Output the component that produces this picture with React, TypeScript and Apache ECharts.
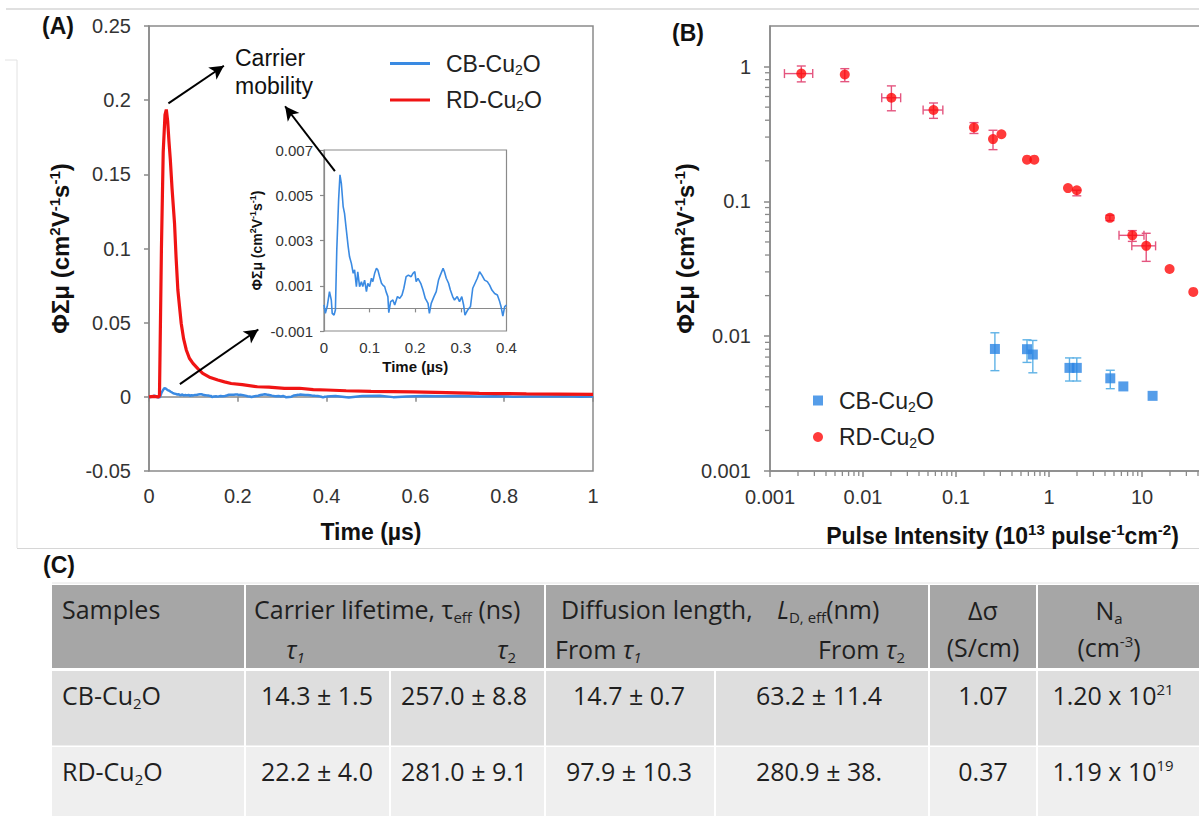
import React, { useEffect, useRef } from "react";
import * as echarts from "echarts";

const FONT = "'Liberation Sans', Arial, Helvetica, sans-serif";
const TFONT = "'Open Sans', 'Liberation Sans', sans-serif";
const RED = "#f01414";
const BLUE = "#3a8ae2";
const AXIS = "#8a8a8a";
const LABEL = "#333333";

// ---------- Panel A: photoconductivity transients (time µs, ΦΣμ) ----------
const rdTransient: [number, number][] = [
  [0, 0], [0.01, 0.0003], [0.022, 0], [0.0236, 0.001], [0.028, 0.1], [0.032, 0.165],
  [0.036, 0.19], [0.039, 0.1937], [0.042, 0.186], [0.045, 0.172], [0.048, 0.16],
  [0.052, 0.14], [0.0575, 0.117], [0.061, 0.094], [0.065, 0.072], [0.0725, 0.0496],
  [0.078, 0.039], [0.084, 0.0316], [0.091, 0.026], [0.099, 0.0226], [0.11, 0.019],
  [0.121, 0.0158], [0.138, 0.013], [0.155, 0.0113], [0.17, 0.0101], [0.185, 0.009],
  [0.21, 0.0082], [0.244, 0.0068], [0.27, 0.0066], [0.305, 0.0057], [0.339, 0.0058],
  [0.37, 0.0049], [0.4, 0.0046], [0.444, 0.0041], [0.5, 0.0037], [0.55, 0.0035],
  [0.594, 0.0033], [0.67, 0.0028], [0.744, 0.0023], [0.8, 0.0022], [0.85, 0.002],
  [0.92, 0.0018], [1.0, 0.0016],
];

// CB-Cu2O, first 0.4 µs (shown in the inset too)
const cbTransientEarly: [number, number][] = [
  [0, 0.00015], [0.003, -0.00022], [0.007, 0.00008], [0.012, 0.00074], [0.016, 0.00037],
  [0.018, -0.00022], [0.022, -0.0003], [0.025, -0.00007], [0.028, 0.00258], [0.032, 0.00479],
  [0.035, 0.0059], [0.038, 0.00553], [0.042, 0.0045], [0.045, 0.0042], [0.049, 0.00346],
  [0.053, 0.00273], [0.056, 0.00228], [0.06, 0.00199], [0.064, 0.00155], [0.067, 0.0017],
  [0.071, 0.00096], [0.074, 0.00162], [0.078, 0.00096], [0.082, 0.00118], [0.085, 0.00096],
  [0.089, 0.00125], [0.093, 0.00074], [0.096, 0.00111], [0.1, 0.00096], [0.104, 0.00133],
  [0.107, 0.00118], [0.111, 0.00155], [0.115, 0.00177], [0.118, 0.0017], [0.122, 0.0014],
  [0.126, 0.00111], [0.129, 0.00103], [0.133, 0.00096], [0.136, 0.00074], [0.14, 0.00052],
  [0.142, -0.00019], [0.146, 0.0003], [0.151, 0.00037], [0.155, 0.00015], [0.161, 0.00052],
  [0.166, 0.00044], [0.171, 0.00059], [0.175, 0.00089], [0.18, 0.0014], [0.185, 0.00147],
  [0.191, 0.0014], [0.195, 0.00155], [0.199, 0.00162], [0.202, 0.00118], [0.206, 0.00133],
  [0.212, 0.00111], [0.217, 0.00081], [0.222, 0.00044], [0.228, 0.00022], [0.231, -0.00022],
  [0.235, 0.00022], [0.241, 0.00052], [0.246, 0.00074], [0.251, 0.00125], [0.255, 0.00147],
  [0.261, 0.00177], [0.264, 0.00162], [0.268, 0.00133], [0.273, 0.00111], [0.277, 0.00081],
  [0.282, 0.00052], [0.286, 0.00037], [0.292, 0.00052], [0.297, 0.0003], [0.302, 0.00052],
  [0.306, 0.00015], [0.309, -0.0003], [0.315, -0.00007], [0.321, 0.00008], [0.326, 0.00089],
  [0.331, 0.00111], [0.336, 0.00133], [0.341, 0.00162], [0.346, 0.00147], [0.352, 0.00125],
  [0.358, 0.00118], [0.363, 0.00103], [0.368, 0.00081], [0.374, 0.00066], [0.38, 0.00059],
  [0.385, 0.0003], [0.388, 0.00008], [0.392, -0.00034], [0.396, 0.00008], [0.4, 0.00015],
];

const cbTransientLate: [number, number][] = [
  [0.42, 0.0006], [0.45, -0.0004], [0.48, 0.0005], [0.52, 0.0007], [0.55, -0.0002],
  [0.58, 0.0003], [0.62, 0.0006], [0.66, 0.0004], [0.7, 0.0006], [0.74, 0.0002],
  [0.78, 0.0004], [0.82, 0.0001], [0.86, 0.0003], [0.9, 0.0002], [0.94, 0.0004],
  [0.97, 0.0001], [1.0, 0.0003],
];

// annotation arrows (data coordinates of panel A)
const arrowStarts: [number, number][] = [[0.0437, 0.1978], [0.4187, 0.1521], [0.0696, 0.0086]];
const arrowEnds: [number, number][] = [[0.1687, 0.2232], [0.3065, 0.1959], [0.2462, 0.0454]];

// ---------- Panel B: mobility vs pulse intensity ----------
const rdIntensity = [0.00217, 0.00637, 0.0202, 0.0573, 0.156, 0.25, 0.308, 0.58, 0.695, 1.6, 1.99, 4.52, 7.87, 11.1, 19.8, 35.6];
const rdMobility = [0.887, 0.873, 0.587, 0.476, 0.353, 0.29, 0.315, 0.204, 0.204, 0.1255, 0.121, 0.0755, 0.056, 0.0468, 0.0315, 0.0213];
const rdXLow = [0.00143, 0.00637, 0.0159, 0.0443, 0.156, 0.25, 0.308, 0.58, 0.695, 1.6, 1.99, 4.52, 5.66, 7.77, 19.8, 35.6];
const rdXHigh = [0.00288, 0.00637, 0.0254, 0.0722, 0.156, 0.25, 0.308, 0.58, 0.695, 1.6, 1.99, 4.52, 10.5, 14.0, 19.8, 35.6];
const rdYLow = [0.77, 0.773, 0.47, 0.413, 0.319, 0.242, 0.315, 0.204, 0.204, 0.1255, 0.11, 0.072, 0.0505, 0.0359, 0.0315, 0.0213];
const rdYHigh = [1.01, 0.965, 0.719, 0.537, 0.384, 0.337, 0.315, 0.204, 0.204, 0.1255, 0.121, 0.079, 0.0607, 0.058, 0.0315, 0.0213];

const cbIntensity = [0.262, 0.58, 0.67, 1.66, 1.99, 4.56, 6.3, 13.0];
const cbMobility = [0.00804, 0.00801, 0.00731, 0.00582, 0.00582, 0.00487, 0.00424, 0.00361];
const cbYLow = [0.00555, 0.00639, 0.00535, 0.00465, 0.00465, 0.00408, 0.00424, 0.00361];
const cbYHigh = [0.0106, 0.0094, 0.0093, 0.0069, 0.0069, 0.00559, 0.00424, 0.00361];

const logDecadesX = [0.001, 0.01, 0.1, 1, 10];
const logDecadesY = [0.001, 0.01, 0.1];
const minorSteps = [2, 3, 4, 5, 6, 7, 8, 9];

// ---------- Panel C: table ----------
const sampleNames = ["CB", "RD"];
const tau1 = ["14.3 ± 1.5", "22.2 ± 4.0"];
const tau2 = ["257.0 ± 8.8", "281.0 ± 9.1"];
const diffTau1 = ["14.7 ± 0.7", "97.9 ± 10.3"];
const diffTau2 = ["63.2 ± 11.4", "280.9 ± 38."];
const deltaSigma = ["1.07", "0.37"];
const naMantissa = ["1.20", "1.19"];
const naExponent = ["21", "19"];

const AXIS_RICH = {
  sup: { fontSize: 15, fontWeight: "bold", fontFamily: FONT, color: "#111", padding: [0, 0, 12, 0] },
};
const INSET_RICH = {
  sup: { fontSize: 9, fontWeight: "bold", fontFamily: FONT, color: "#111", padding: [0, 0, 8, 0] },
};
const TCOL = "#1f1f1f";
const TABLE_RICH = {
  s: { fontSize: 15, fontFamily: TFONT, fill: TCOL, padding: [15, 0, 0, 0] },
  si: { fontSize: 15, fontFamily: TFONT, fontStyle: "italic", fill: TCOL, padding: [15, 0, 0, 0] },
  i: { fontSize: 25, fontFamily: TFONT, fontStyle: "italic", fill: TCOL },
  p: { fontSize: 15, fontFamily: TFONT, fill: TCOL, padding: [0, 0, 13, 0] },
};

function tText(x: number, y: number, text: string, align: string = "left"): any {
  return {
    type: "text",
    x,
    y,
    silent: true,
    z: 10,
    style: {
      text,
      fill: TCOL,
      fontSize: 25,
      fontFamily: TFONT,
      align,
      verticalAlign: "middle",
      textAlign: align,
      textVerticalAlign: "middle",
      rich: TABLE_RICH,
    },
  };
}

function plainText(x: number, y: number, text: string, size: number, bold: boolean, align = "left"): any {
  return {
    type: "text",
    x,
    y,
    silent: true,
    z: 10,
    style: {
      text,
      fill: "#111",
      fontSize: size,
      fontWeight: bold ? "bold" : "normal",
      fontFamily: FONT,
      align,
      verticalAlign: "middle",
      textAlign: align,
      textVerticalAlign: "middle",
      lineHeight: 28,
    },
  };
}

function hline(x1: number, x2: number, y: number, color: string, w = 1.5): any {
  return { type: "line", silent: true, shape: { x1, y1: y, x2, y2: y }, style: { stroke: color, lineWidth: w } };
}
function vline(x: number, y1: number, y2: number, color: string, w = 1.5): any {
  return { type: "line", silent: true, shape: { x1: x, y1, x2: x, y2 }, style: { stroke: color, lineWidth: w } };
}

function buildTable(): any[] {
  const els: any[] = [];
  const left = 52;
  const right = 1215;
  els.push(hline(left, 1199, 583, "#e4e4e4", 1));
  els.push({ type: "rect", silent: true, shape: { x: left, y: 585, width: right - left, height: 83 }, style: { fill: "#a6a6a6" } });
  els.push({ type: "rect", silent: true, shape: { x: left, y: 671, width: right - left, height: 75 }, style: { fill: "#dedede" } });
  els.push({ type: "rect", silent: true, shape: { x: left, y: 747, width: right - left, height: 80 }, style: { fill: "#efefef" } });
  [245, 545, 929, 1037].forEach((x) => els.push(vline(x, 585, 668, "#ffffff", 2)));
  [245, 390, 545, 715, 929, 1037].forEach((x) => els.push(vline(x, 671, 816, "#ffffff", 2)));
  els.push(hline(left, right, 746.3, "#ffffff", 1.5));

  els.push(tText(62, 609, "Samples"));
  els.push(tText(254, 609, "Carrier lifetime, τ{s|eff} (ns)"));
  els.push(tText(286, 649, "{i|τ}{si|1}"));
  els.push(tText(497, 649, "{i|τ}{s|2}"));
  els.push(tText(561, 609, "Diffusion length,"));
  els.push(tText(777, 609, "{i|L}{s|D, eff}(nm)"));
  els.push(tText(555, 649, "From {i|τ}{si|1}"));
  els.push(tText(905, 649, "From {i|τ}{s|2}", "right"));
  els.push(tText(983, 610, "Δσ", "center"));
  els.push(tText(983, 647, "(S/cm)", "center"));
  els.push(tText(1109, 610, "N{s|a}", "center"));
  els.push(tText(1109, 647, "(cm{p|-3})", "center"));

  const rowY = [695, 771];
  sampleNames.forEach((s, i) => {
    const y = rowY[i];
    els.push(tText(62, y, `${s}-Cu{s|2}O`));
    els.push(tText(317, y, tau1[i], "center"));
    els.push(tText(464, y, tau2[i], "center"));
    els.push(tText(629, y, diffTau1[i], "center"));
    els.push(tText(819, y, diffTau2[i], "center"));
    els.push(tText(983, y, deltaSigma[i], "center"));
    els.push(tText(1113, y, `${naMantissa[i]} x 10{p|${naExponent[i]}}`, "center"));
  });
  return els;
}

function errorBars(color: string) {
  return (_params: any, api: any) => {
    const x = api.value(0);
    const xlo = api.value(2);
    const xhi = api.value(3);
    const ylo = api.value(4);
    const yhi = api.value(5);
    const y = api.value(1);
    const cap = 4.5;
    const st = { stroke: color, lineWidth: 1.4 };
    const ch: any[] = [];
    if (yhi > ylo) {
      const a = api.coord([x, yhi]);
      const b = api.coord([x, ylo]);
      ch.push({ type: "line", shape: { x1: a[0], y1: a[1], x2: b[0], y2: b[1] }, style: st });
      ch.push({ type: "line", shape: { x1: a[0] - cap, y1: a[1], x2: a[0] + cap, y2: a[1] }, style: st });
      ch.push({ type: "line", shape: { x1: b[0] - cap, y1: b[1], x2: b[0] + cap, y2: b[1] }, style: st });
    }
    if (xhi > xlo) {
      const a = api.coord([xlo, y]);
      const b = api.coord([xhi, y]);
      ch.push({ type: "line", shape: { x1: a[0], y1: a[1], x2: b[0], y2: b[1] }, style: st });
      ch.push({ type: "line", shape: { x1: a[0], y1: a[1] - cap, x2: a[0], y2: a[1] + cap }, style: st });
      ch.push({ type: "line", shape: { x1: b[0], y1: b[1] - cap, x2: b[0], y2: b[1] + cap }, style: st });
    }
    return { type: "group", children: ch };
  };
}

const legendNames: Record<string, string> = {
  "A-CB": "CB-Cu{sub|2}O",
  "A-RD": "RD-Cu{sub|2}O",
  "B-CB": "CB-Cu{sub|2}O",
  "B-RD": "RD-Cu{sub|2}O",
};
const LEGEND_TEXT = {
  fontSize: 23,
  fontFamily: FONT,
  color: "#222",
  padding: [0, 0, 0, 11],
  rich: { sub: { fontSize: 14, fontFamily: FONT, color: "#222", padding: [12, 0, 0, 0] } },
};

function buildOption(): any {
  const xMinor: number[][] = [];
  logDecadesX.forEach((d) => minorSteps.forEach((m) => xMinor.push([d * m, 0.001])));
  const yMinor: number[][] = [];
  logDecadesY.forEach((d) => minorSteps.forEach((m) => yMinor.push([0.001, d * m])));

  const axisLine = { show: true, lineStyle: { color: AXIS, width: 1.5 } };
  const axisTick = { show: true, inside: false, length: 5, lineStyle: { color: AXIS, width: 1.5 } };
  const insetLine = { show: true, lineStyle: { color: AXIS, width: 1.2 } };
  const insetTick = { show: true, inside: false, length: 4, lineStyle: { color: AXIS, width: 1.2 } };

  return {
    animation: false,
    backgroundColor: "#ffffff",
    grid: [
      { left: 149, top: 26, width: 444, height: 445, show: true, borderColor: AXIS, borderWidth: 1.5, backgroundColor: "transparent" },
      { left: 324, top: 150, width: 182.5, height: 181, show: true, borderColor: AXIS, borderWidth: 1.2, backgroundColor: "transparent" },
      { left: 770, top: 26, width: 465, height: 445, show: true, borderColor: AXIS, borderWidth: 1.5, backgroundColor: "transparent" },
    ],
    xAxis: [
      {
        type: "value", gridIndex: 0, min: 0, max: 1, interval: 0.2,
        axisLine, axisTick, splitLine: { show: false },
        axisLabel: { fontSize: 20, color: LABEL, fontFamily: FONT, margin: 15 },
        name: "Time (µs)", nameLocation: "middle", nameGap: 49,
        nameTextStyle: { fontSize: 23, fontWeight: "bold", color: "#111", fontFamily: FONT },
      },
      {
        type: "value", gridIndex: 1, min: 0, max: 0.4, interval: 0.1,
        axisLine: insetLine, axisTick: insetTick, splitLine: { show: false },
        axisLabel: { fontSize: 15, color: LABEL, fontFamily: FONT, margin: 9 },
        name: "Time (µs)", nameLocation: "middle", nameGap: 28,
        nameTextStyle: { fontSize: 15, fontWeight: "bold", color: "#111", fontFamily: FONT },
      },
      {
        type: "log", logBase: 10, gridIndex: 2, min: 0.001, max: 100,
        axisLine, axisTick: { ...axisTick, length: 6 }, splitLine: { show: false },
        axisLabel: { fontSize: 20, color: LABEL, fontFamily: FONT, margin: 16, showMaxLabel: false },
        name: "Pulse Intensity (10{sup|13} pulse{sup|-1}cm{sup|-2})", nameLocation: "middle", nameGap: 51,
        nameTextStyle: { fontSize: 23, fontWeight: "bold", color: "#111", fontFamily: FONT, rich: AXIS_RICH },
      },
    ],
    yAxis: [
      {
        type: "value", gridIndex: 0, min: -0.05, max: 0.25, interval: 0.05,
        axisLine, axisTick, splitLine: { show: false },
        axisLabel: { fontSize: 20, color: LABEL, fontFamily: FONT, margin: 18 },
        name: "ΦΣμ (cm{sup|2}V{sup|-1}s{sup|-1})", nameLocation: "middle", nameRotate: 90, nameGap: 75,
        nameTextStyle: { fontSize: 24, fontWeight: "bold", color: "#111", fontFamily: FONT, rich: AXIS_RICH },
      },
      {
        type: "value", gridIndex: 1, min: -0.001, max: 0.007, interval: 0.002,
        axisLine: insetLine, axisTick: insetTick, splitLine: { show: false },
        axisLabel: { fontSize: 15, color: LABEL, fontFamily: FONT, margin: 11 },
        name: "ΦΣμ (cm{sup|2}V{sup|-1}s{sup|-1})", nameLocation: "middle", nameRotate: 90, nameGap: 59,
        nameTextStyle: { fontSize: 14, fontWeight: "bold", color: "#111", fontFamily: FONT, rich: INSET_RICH },
      },
      {
        type: "log", logBase: 10, gridIndex: 2, min: 0.001, max: 2,
        axisLine, axisTick: { ...axisTick, length: 6 }, splitLine: { show: false },
        axisLabel: { fontSize: 20, color: LABEL, fontFamily: FONT, margin: 19, showMaxLabel: false },
        name: "ΦΣμ (cm{sup|2}V{sup|-1}s{sup|-1})", nameLocation: "middle", nameRotate: 90, nameGap: 62,
        nameTextStyle: { fontSize: 24, fontWeight: "bold", color: "#111", fontFamily: FONT, rich: AXIS_RICH },
      },
    ],
    legend: [
      {
        orient: "vertical", left: 390, top: 52, padding: 0, itemGap: 12, itemWidth: 40, itemHeight: 3,
        icon: "rect", selectedMode: false, data: ["A-CB", "A-RD"],
        formatter: (n: string) => legendNames[n], textStyle: LEGEND_TEXT,
      },
      {
        orient: "vertical", left: 813, top: 389, padding: 0, itemGap: 12, itemWidth: 10, itemHeight: 10,
        selectedMode: false,
        data: [{ name: "B-CB", icon: "rect" }, { name: "B-RD", icon: "circle" }],
        formatter: (n: string) => legendNames[n], textStyle: LEGEND_TEXT,
      },
    ],
    series: [
      {
        name: "A-CB", type: "line", xAxisIndex: 0, yAxisIndex: 0, showSymbol: false, symbol: "none",
        data: [...cbTransientEarly, ...cbTransientLate],
        color: BLUE, lineStyle: { color: BLUE, width: 2.5 }, z: 2,
      },
      {
        name: "A-RD", type: "line", xAxisIndex: 0, yAxisIndex: 0, showSymbol: false, symbol: "none",
        data: rdTransient, color: RED, lineStyle: { color: RED, width: 3.2 }, z: 3,
        markLine: {
          silent: true, symbol: ["none", "arrow"], symbolSize: [11, 14],
          lineStyle: { color: "#000", width: 2, type: "solid" }, label: { show: false },
          emphasis: { disabled: true },
          data: arrowStarts.map((s, i) => [{ coord: s }, { coord: arrowEnds[i] }]),
        },
      },
      {
        name: "inset", type: "line", xAxisIndex: 1, yAxisIndex: 1, showSymbol: false, symbol: "none",
        data: cbTransientEarly, color: BLUE, lineStyle: { color: BLUE, width: 1.6 }, z: 3,
      },
      {
        name: "B-RD-err", type: "custom", xAxisIndex: 2, yAxisIndex: 2, silent: true, z: 2,
        encode: { x: 0, y: 1 },
        data: rdIntensity.map((x, i) => [x, rdMobility[i], rdXLow[i], rdXHigh[i], rdYLow[i], rdYHigh[i]]),
        renderItem: errorBars("#e4557f"),
      },
      {
        name: "B-CB-err", type: "custom", xAxisIndex: 2, yAxisIndex: 2, silent: true, z: 2,
        encode: { x: 0, y: 1 },
        data: cbIntensity.map((x, i) => [x, cbMobility[i], x, x, cbYLow[i], cbYHigh[i]]),
        renderItem: errorBars("#5fb2e6"),
      },
      {
        name: "B-CB", type: "scatter", xAxisIndex: 2, yAxisIndex: 2, symbol: "rect", symbolSize: 10,
        data: cbIntensity.map((x, i) => [x, cbMobility[i]]), color: "#2a84e4", z: 4,
      },
      {
        name: "B-RD", type: "scatter", xAxisIndex: 2, yAxisIndex: 2, symbol: "circle", symbolSize: 10,
        data: rdIntensity.map((x, i) => [x, rdMobility[i]]), color: "#ff0a0a", z: 4,
      },
      {
        name: "x-minor", type: "custom", xAxisIndex: 2, yAxisIndex: 2, silent: true, clip: false,
        data: xMinor,
        renderItem: (_p: any, api: any) => {
          const c = api.coord([api.value(0), 0.001]);
          return { type: "line", shape: { x1: c[0], y1: c[1], x2: c[0], y2: c[1] + 5 }, style: { stroke: AXIS, lineWidth: 1.3 } };
        },
      },
      {
        name: "y-minor", type: "custom", xAxisIndex: 2, yAxisIndex: 2, silent: true, clip: false,
        data: yMinor,
        renderItem: (_p: any, api: any) => {
          const c = api.coord([0.001, api.value(1)]);
          return { type: "line", shape: { x1: c[0] - 5, y1: c[1], x2: c[0], y2: c[1] }, style: { stroke: AXIS, lineWidth: 1.3 } };
        },
      },
    ],
    graphic: [
      hline(6, 1199, 9, "#d6d6d6", 1.5),
      hline(5, 17, 60, "#e2e2e2", 1),
      vline(17, 60, 548, "#e2e2e2", 1),
      hline(17, 1199, 548.5, "#d6d6d6", 1.2),
      plainText(42, 26, "(A)", 23, true),
      plainText(672, 33, "(B)", 23, true),
      plainText(43, 565, "(C)", 23, true),
      {
        type: "text", x: 235, y: 44, silent: true, z: 10,
        style: { text: "Carrier\nmobility", fill: "#111", fontSize: 23, fontFamily: FONT, lineHeight: 28, align: "left", verticalAlign: "top", textAlign: "left", textVerticalAlign: "top" },
      },
      ...buildTable(),
    ],
  };
}

export default function App() {
  const ref = useRef<HTMLDivElement>(null);
  useEffect(() => {
    if (!ref.current) return;
    const chart = echarts.init(ref.current, null, { renderer: "svg" });
    chart.setOption(buildOption());
    return () => chart.dispose();
  }, []);
  return (
    <div style={{ position: "fixed", left: 0, top: 0, width: 1199, height: 816, overflow: "hidden", background: "#fff" }}>
      <div ref={ref} style={{ width: 1300, height: 816 }} />
    </div>
  );
}
